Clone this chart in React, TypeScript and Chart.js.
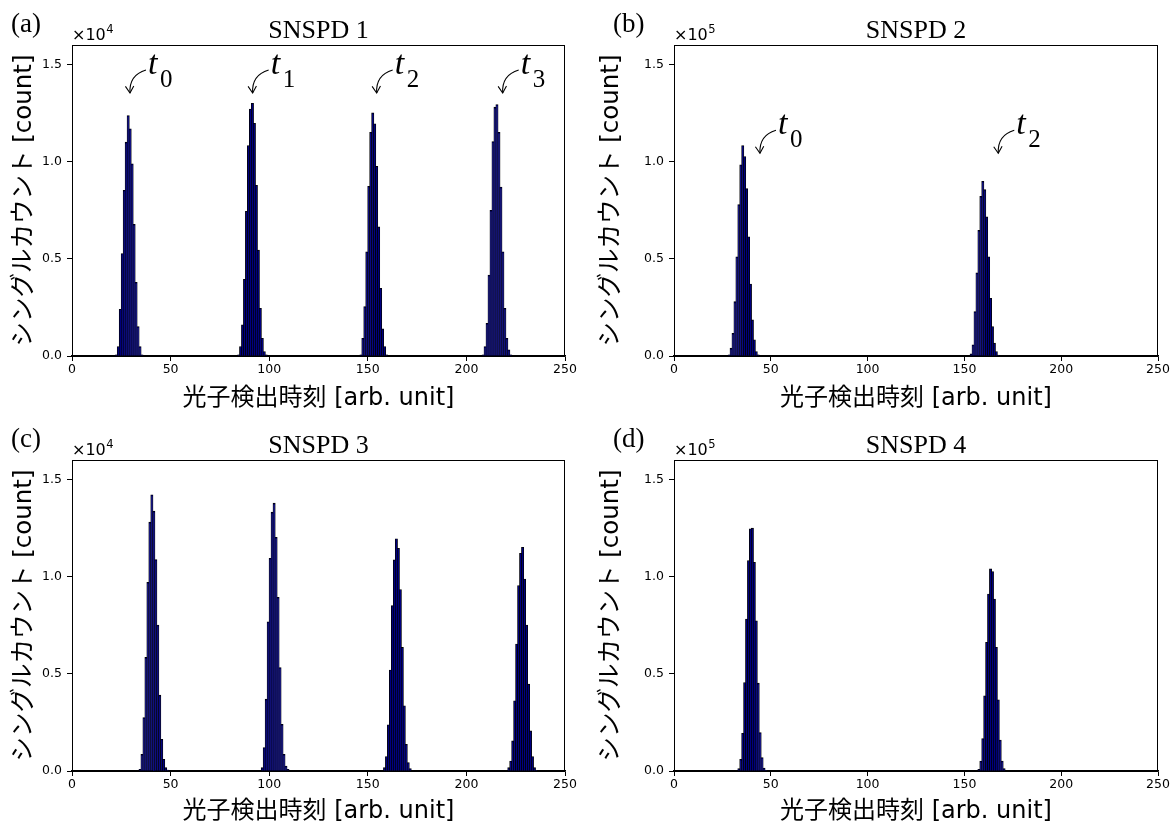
import React, { useEffect, useRef } from 'react';
import { Chart, registerables } from 'chart.js';

Chart.register(...registerables);

// ---------- data ----------
const xTickStep = 50;
const xMax = 250;
const yMaxUnits = 1.6;
const yTickValues = [0, 0.5, 1.0, 1.5];
const yTickLabels = ['0.0', '0.5', '1.0', '1.5'];

// SNSPD 1 (counts), histogram bins of width 1 starting at the given bin
const snspd1Starts = [22, 84, 146, 208];
const snspd1T0 = [51, 477, 2393, 5265, 8513, 10991, 12359, 11675, 9880, 6770, 3778, 1504, 477, 51];
const snspd1T1 = [51, 479, 1590, 3932, 7436, 10820, 12700, 12990, 11966, 8770, 5436, 2444, 906, 222, 51];
const snspd1T2 = [51, 906, 2530, 5350, 8718, 11504, 12496, 11932, 9744, 6632, 3470, 1385, 479, 51];
const snspd1T3 = [51, 479, 1676, 4154, 7487, 11026, 12792, 12929, 11504, 8684, 5350, 2444, 906, 308, 51];

// SNSPD 2
const snspd2Starts = [28, 153];
const snspd2T0 = [513, 3932, 11624, 27863, 50940, 77778, 98291, 108205, 102564, 85983, 61197, 36923, 18462, 8205, 2222, 513];
const snspd2T2 = [1026, 5641, 22735, 42735, 64615, 82051, 89744, 85470, 71453, 50940, 29573, 15043, 6496, 2222, 342];

// SNSPD 3
const snspd3Starts = [34, 96, 158, 221];
const snspd3T0 = [77, 851, 2741, 5833, 9699, 12792, 14201, 13359, 10868, 7500, 3892, 1624, 593, 163, 40];
const snspd3T1 = [163, 1194, 3686, 7672, 10937, 13307, 13771, 12019, 8926, 5318, 2397, 851, 249, 77];
const snspd3T2 = [163, 730, 2363, 5180, 8497, 10851, 11933, 11452, 9321, 6349, 3342, 1366, 421, 112];
const snspd3T3 = [163, 507, 1538, 3601, 6521, 9527, 11194, 11503, 9871, 7500, 4459, 2053, 730, 163, 30];

// SNSPD 4
const snspd4Starts = [33, 157];
const snspd4T0 = [1134, 5928, 19330, 45464, 78093, 108144, 124485, 124845, 107320, 77216, 45103, 19691, 6804, 1443, 258];
const snspd4T2 = [773, 5052, 16598, 38557, 66082, 90979, 103866, 102474, 88402, 63505, 36495, 15876, 5052, 1134];

// annotations (arrow tip in data coordinates)
const annA_labels = ['0', '1', '2', '3'];
const annA_x = [29.4, 91.6, 154.5, 218.4];
const annA_y = [13530, 13530, 13530, 13530];
const annB_labels = ['0', '2'];
const annB_x = [44.4, 167.5];
const annB_y = [104300, 104300];

const titles = ['SNSPD 1', 'SNSPD 2', 'SNSPD 3', 'SNSPD 4'];
const tags = ['(a)', '(b)', '(c)', '(d)'];
const exponents = [4, 5, 4, 5];

const xLabel = '光子検出時刻 [arb. unit]';
const yLabel = 'シングルカウント [count]';

// ---------- helpers ----------
function toPoints(starts: number[], peaks: number[][]) {
  const pts: { x: number; y: number }[] = [];
  peaks.forEach((arr, i) => {
    arr.forEach((v, j) => pts.push({ x: starts[i] + j + 0.5, y: v }));
  });
  return pts;
}

const SANS = "'DejaVu Sans', 'Noto Sans CJK JP', sans-serif";
const SERIF = "'Liberation Serif', 'DejaVu Serif', serif";

const decorPlugin = {
  id: 'decor',
  afterDraw(chart: any) {
    const o = chart.options.plugins.decor;
    if (!o) return;
    const { ctx, chartArea: ca, scales } = chart;
    ctx.save();
    // frame
    ctx.strokeStyle = '#000';
    ctx.lineWidth = 1;
    ctx.strokeRect(ca.left + 0.5, ca.top + 0.5, ca.right - ca.left - 1, ca.bottom - ca.top);

    ctx.fillStyle = '#000';
    ctx.textBaseline = 'alphabetic';
    // title
    ctx.font = `26px ${SERIF}`;
    ctx.textAlign = 'center';
    ctx.fillText(o.title, (ca.left + ca.right) / 2, ca.top - 7);
    // panel tag
    ctx.font = `27px ${SERIF}`;
    ctx.textAlign = 'left';
    ctx.fillText(o.tag, ca.left - 61, ca.top - 13.5);
    // offset text ×10^n
    ctx.font = `16px ${SANS}`;
    const base = '×10';
    ctx.fillText(base, ca.left, ca.top - 5);
    const w = ctx.measureText(base).width;
    ctx.font = `11.5px ${SANS}`;
    ctx.fillText(String(o.exp), ca.left + w + 0.5, ca.top - 12);

    // annotations
    const ann = o.ann;
    if (ann) {
      ann.labels.forEach((lab: string, i: number) => {
        const px = scales.x.getPixelForValue(ann.x[i]);
        const py = scales.y.getPixelForValue(ann.y[i]);
        const tx = px + 16, ty = py - 23;
        const cx = px - 1, cy = py - 18;
        ctx.strokeStyle = '#000';
        ctx.lineWidth = 1.1;
        ctx.beginPath();
        ctx.moveTo(tx, ty);
        ctx.quadraticCurveTo(cx, cy, px, py);
        ctx.stroke();
        const th = Math.atan2(py - cy, px - cx);
        const L = 8, a = 0.55;
        ctx.beginPath();
        ctx.moveTo(px + L * Math.cos(th + Math.PI - a), py + L * Math.sin(th + Math.PI - a));
        ctx.lineTo(px, py);
        ctx.lineTo(px + L * Math.cos(th + Math.PI + a), py + L * Math.sin(th + Math.PI + a));
        ctx.stroke();
        ctx.font = `italic 34px ${SERIF}`;
        ctx.textAlign = 'left';
        ctx.fillText('t', px + 18, py - 19.5);
        ctx.font = `25px ${SERIF}`;
        ctx.fillText(lab, px + 30, py - 6);
      });
    }
    ctx.restore();
  },
};

type PanelCfg = {
  left: number; top: number; w: number; h: number;
  L: number; R: number; T: number; B: number;
  points: { x: number; y: number }[];
  scale: number; idx: number;
  ann?: { labels: string[]; x: number[]; y: number[] };
};

function Panel({ cfg }: { cfg: PanelCfg }) {
  const ref = useRef<HTMLCanvasElement>(null);
  useEffect(() => {
    const s = cfg.scale;
    const chart = new Chart(ref.current as HTMLCanvasElement, {
      type: 'bar',
      data: {
        datasets: [
          {
            data: cfg.points as any,
            backgroundColor: '#000080',
            borderColor: '#000000',
            borderWidth: 0.8,
            inflateAmount: 0.5,
            barPercentage: 1,
            categoryPercentage: 1,
          } as any,
        ],
      },
      options: {
        responsive: false,
        animation: false,
        devicePixelRatio: 1,
        layout: { padding: { left: 0, top: cfg.T, right: cfg.w - cfg.R, bottom: 0 } },
        plugins: {
          legend: { display: false },
          tooltip: { enabled: false },
          title: { display: false },
          decor: {
            title: titles[cfg.idx],
            tag: tags[cfg.idx],
            exp: exponents[cfg.idx],
            ann: cfg.ann,
          },
        } as any,
        scales: {
          x: {
            type: 'linear',
            min: 0,
            max: xMax,
            offset: false,
            bounds: 'data',
            ticks: {
              stepSize: xTickStep,
              color: '#000',
              font: { family: SANS, size: 12.5 },
              padding: 1,
              maxRotation: 0,
            } as any,
            grid: { display: true, offset: false, drawOnChartArea: false, drawTicks: true, tickLength: 5, color: '#000' },
            border: { display: true, color: '#000', width: 1.5 },
            title: {
              display: true,
              text: xLabel,
              color: '#000',
              font: { family: SANS, size: 24 },
              padding: { top: 0, bottom: 0 },
            },
            afterFit: (sc: any) => {
              sc.height = cfg.h - cfg.B;
            },
          },
          y: {
            type: 'linear',
            min: 0,
            max: yMaxUnits * s,
            bounds: 'data',
            ticks: {
              color: '#000',
              font: { family: SANS, size: 12.5 },
              padding: 5,
              autoSkip: false,
              callback: (v: any) => {
                const k = yTickValues.findIndex((t) => Math.abs(t * s - Number(v)) < 1);
                return k >= 0 ? yTickLabels[k] : '';
              },
            } as any,
            afterDataLimits: (sc: any) => {
              sc.min = 0;
              sc.max = yMaxUnits * s;
            },
            afterBuildTicks: (sc: any) => {
              sc.ticks = yTickValues.map((t) => ({ value: t * s }));
            },
            grid: { display: true, offset: false, drawOnChartArea: false, drawTicks: true, tickLength: 5, color: '#000' },
            border: { display: true, color: '#000', width: 1 },
            title: {
              display: true,
              text: yLabel,
              color: '#000',
              font: { family: SANS, size: 24.5 },
              padding: { top: 10, bottom: 0 },
            },
            afterFit: (sc: any) => {
              sc.width = cfg.L;
            },
          },
        },
      },
      plugins: [decorPlugin],
    });
    return () => chart.destroy();
  }, []);
  return (
    <div style={{ position: 'absolute', left: cfg.left, top: cfg.top, width: cfg.w, height: cfg.h }}>
      <canvas ref={ref} width={cfg.w} height={cfg.h} style={{ width: cfg.w, height: cfg.h, display: 'block' }} />
    </div>
  );
}

const panels: PanelCfg[] = [
  {
    left: 0, top: 0, w: 587, h: 413, L: 72, R: 565, T: 45, B: 356, idx: 0, scale: 1e4,
    points: toPoints(snspd1Starts, [snspd1T0, snspd1T1, snspd1T2, snspd1T3]),
    ann: { labels: annA_labels, x: annA_x, y: annA_y },
  },
  {
    left: 587, top: 0, w: 588, h: 413, L: 87, R: 571, T: 45, B: 356, idx: 1, scale: 1e5,
    points: toPoints(snspd2Starts, [snspd2T0, snspd2T2]),
    ann: { labels: annB_labels, x: annB_x, y: annB_y },
  },
  {
    left: 0, top: 413, w: 587, h: 413, L: 72, R: 565, T: 47, B: 358, idx: 2, scale: 1e4,
    points: toPoints(snspd3Starts, [snspd3T0, snspd3T1, snspd3T2, snspd3T3]),
  },
  {
    left: 587, top: 413, w: 588, h: 413, L: 87, R: 571, T: 47, B: 358, idx: 3, scale: 1e5,
    points: toPoints(snspd4Starts, [snspd4T0, snspd4T2]),
  },
];

export default function App() {
  return (
    <div style={{ position: 'absolute', left: 0, top: 0, width: 1175, height: 826, background: '#fff', overflow: 'hidden' }}>
      {panels.map((p, i) => (
        <Panel key={i} cfg={p} />
      ))}
    </div>
  );
}
